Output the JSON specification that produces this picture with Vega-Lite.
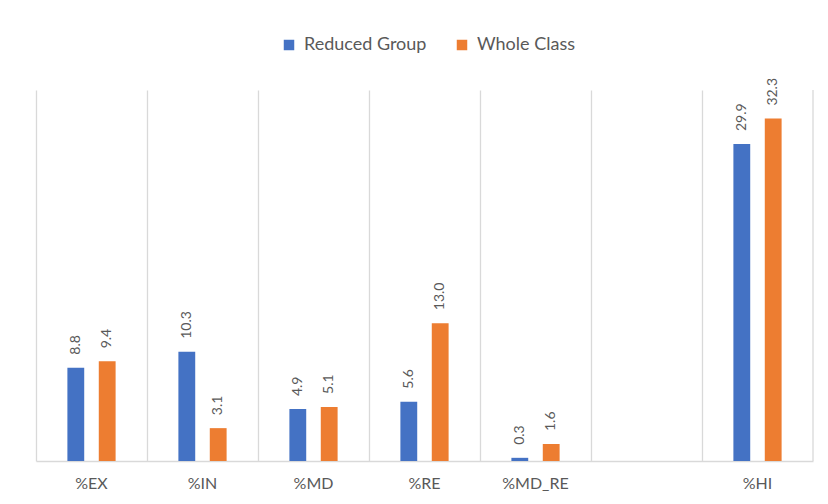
{
  "$schema": "https://vega.github.io/schema/vega-lite/v6.json",
  "width": 777,
  "height": 371,
  "autosize": {"type": "none"},
  "padding": {"left": 36, "top": 90, "right": 15, "bottom": 43},
  "background": "white",
  "config": {
    "view": {"stroke": null},
    "font": "Lato"
  },
  "data": {
    "values": [
      {"measure": "%EX", "group": "Reduced Group", "value": 8.8},
      {"measure": "%EX", "group": "Whole Class", "value": 9.4},
      {"measure": "%IN", "group": "Reduced Group", "value": 10.3},
      {"measure": "%IN", "group": "Whole Class", "value": 3.1},
      {"measure": "%MD", "group": "Reduced Group", "value": 4.9},
      {"measure": "%MD", "group": "Whole Class", "value": 5.1},
      {"measure": "%RE", "group": "Reduced Group", "value": 5.6},
      {"measure": "%RE", "group": "Whole Class", "value": 13.0},
      {"measure": "%MD_RE", "group": "Reduced Group", "value": 0.3},
      {"measure": "%MD_RE", "group": "Whole Class", "value": 1.6},
      {"measure": "%HI", "group": "Reduced Group", "value": 29.9},
      {"measure": "%HI", "group": "Whole Class", "value": 32.3}
    ]
  },
  "encoding": {
    "x": {
      "field": "measure",
      "type": "nominal",
      "sort": null,
      "scale": {
        "domain": ["%EX", "%IN", "%MD", "%RE", "%MD_RE", " ", "%HI"],
        "paddingInner": 0,
        "paddingOuter": 0
      },
      "axis": {
        "title": null,
        "labelAngle": 0,
        "labelColor": "#595959",
        "labelFontSize": 16,
        "labelPadding": 14,
        "ticks": false,
        "domainColor": "#d9d9d9",
        "domainWidth": 1.5,
        "grid": true,
        "gridColor": "#d9d9d9",
        "gridWidth": 1.3,
        "bandPosition": 0
      }
    },
    "xOffset": {
      "field": "group",
      "type": "nominal",
      "scale": {"paddingInner": 0.464, "paddingOuter": 1.126}
    },
    "y": {
      "field": "value",
      "type": "quantitative",
      "scale": {"domain": [0, 35], "nice": false},
      "axis": null
    }
  },
  "layer": [
    {
      "mark": {"type": "rule", "color": "#d9d9d9", "strokeWidth": 1.3},
      "data": {"values": [{"measure": "%HI"}]},
      "encoding": {
        "x": {"field": "measure", "type": "nominal", "bandPosition": 1},
        "xOffset": null,
        "y": null
      }
    },
    {
      "mark": {"type": "bar"},
      "encoding": {
        "color": {
          "field": "group",
          "type": "nominal",
          "scale": {
            "domain": ["Reduced Group", "Whole Class"],
            "range": ["#4472C4", "#ED7D31"]
          },
          "legend": {
            "title": null,
            "orient": "none",
            "direction": "horizontal",
            "legendX": 244,
            "legendY": -54,
            "symbolType": "square",
            "symbolSize": 110,
            "symbolStrokeWidth": 0,
            "labelFontSize": 18,
            "labelColor": "#595959",
            "labelOffset": 6,
            "columnPadding": 26
          }
        }
      }
    },
    {
      "mark": {
        "type": "text",
        "angle": 270,
        "align": "left",
        "baseline": "middle",
        "dx": 13,
        "fontSize": 14,
        "color": "#595959"
      },
      "encoding": {
        "text": {"field": "value", "type": "quantitative", "format": ".1f"}
      }
    }
  ]
}
